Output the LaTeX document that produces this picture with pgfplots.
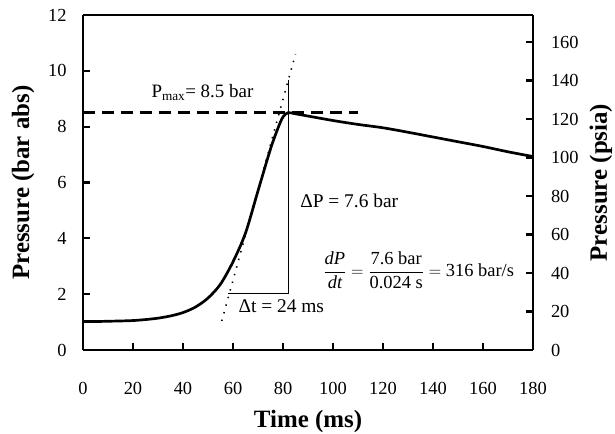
\documentclass[border=0pt]{standalone}
\usepackage{pgfplots}
\pgfplotsset{compat=1.18}
\usepackage{fontspec}
\setmainfont{Liberation Serif}

\begin{document}
\begin{tikzpicture}
\useasboundingbox (-83bp,-84bp) rectangle (532bp,350bp);
\pgfplotsset{
  every axis/.append style={
    scale only axis, width=450bp, height=335bp,
    xmin=0, xmax=180,
    /pgf/number format/assume math mode=true,
    tick label style={font=\fontsize{18.5}{20}\selectfont},
    label style={font=\fontsize{25}{27}\selectfont\bfseries},
    tick style={line width=2.2pt, black},
    major tick length=7bp,
    tick align=inside,
  }
}
\begin{axis}[
  axis line style={line width=2.2pt},
  axis y line*=left, axis x line*=bottom,
  ymin=0, ymax=12,
  xtick={0,20,...,180}, ytick={0,2,...,12},
  xticklabel style={yshift=-29bp},
  yticklabel style={xshift=-13bp},
  xlabel={Time (ms)}, ylabel={Pressure (bar abs)},
  xlabel style={at={(axis description cs:0.5,-0.212)}, anchor=center},
  ylabel style={at={(axis description cs:-0.133,0.5)}, anchor=center},
  clip=false,
]
% pressure trace
\addplot[black, line width=2.7pt, smooth] coordinates {
(0,1.02) (5,1.02) (10,1.03) (15,1.04) (20,1.055) (25,1.09) (30,1.14)
(35,1.22) (40,1.34) (45,1.54) (50,1.86) (55,2.36) (60,3.16) (65,4.19)
(70,5.7) (75,7.2) (78,7.95) (80,8.35) (82,8.5) (85,8.46) (90,8.38)
(100,8.22) (110,8.08) (120,7.96) (130,7.8) (140,7.63) (150,7.46)
(160,7.29) (170,7.1) (180,6.93)
};
% Pmax dashed line
\addplot[black, line width=2.6pt, dash pattern=on 12bp off 7bp] coordinates {(0,8.5) (110,8.5)};
% delta lines
\addplot[black, line width=1pt] coordinates {(58,2.02) (82,2.02) (82,9.68)};
% tangent
\addplot[black, line width=1.6pt, dash pattern=on 1.4bp off 6.5bp] coordinates {(55.5,1.04) (85,10.6)};
\node[anchor=base west, font=\fontsize{19}{21}\selectfont] at (axis cs:26,9.03) {P\textsubscript{max}= 8.5 bar};
\node[anchor=base west, font=\fontsize{19.5}{21}\selectfont] at (axis cs:85.5,5.09) {ΔP = 7.6 bar};
\node[anchor=base west, font=\fontsize{19.5}{21}\selectfont] at (axis cs:60.8,1.34) {Δt = 24 ms};
\node[anchor=base west, font=\fontsize{18.5}{20}\selectfont] at (axis cs:94.8,2.63)
  {$\displaystyle\frac{\mbox{\itshape dP}}{\mbox{\itshape dt}}=\frac{\mbox{7.6 bar}}{\mbox{0.024 s}}=\mbox{316 bar/s}$};
\end{axis}
\begin{axis}[
  axis line style={line width=2.2pt},
  axis y line*=right, axis x line*=top,
  xtick=\empty,
  ymin=0, ymax=174.05,
  ytick={0,20,...,160},
  yticklabel style={xshift=14.5bp},
  ylabel={Pressure (psia)},
  ylabel style={at={(axis description cs:1.151,0.5)}, anchor=center},
]
\addplot[draw=none] coordinates {(0,0)};
\end{axis}
\end{tikzpicture}
\end{document}
